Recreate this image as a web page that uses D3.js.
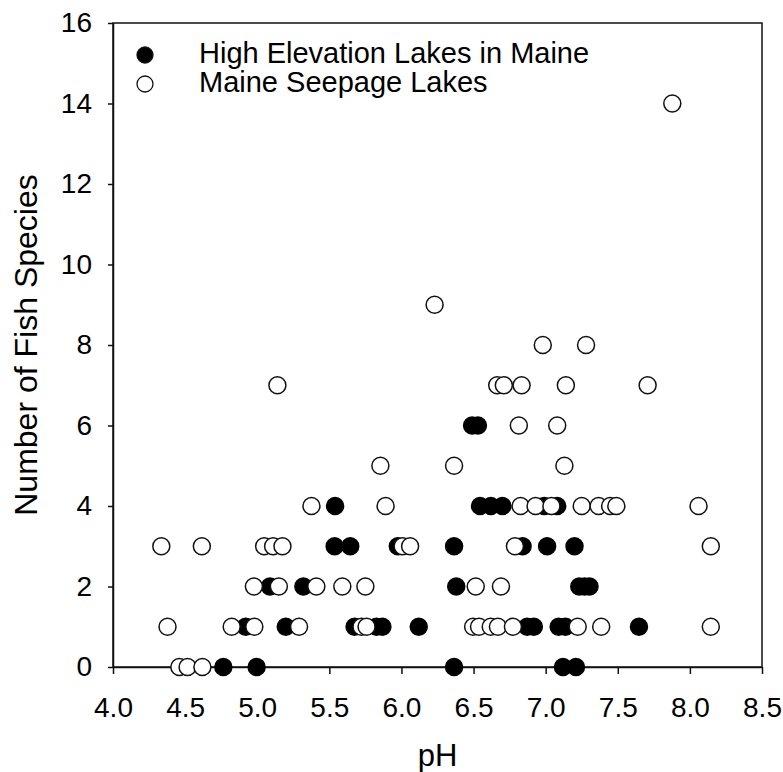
<!DOCTYPE html>
<html>
<head>
<meta charset="utf-8">
<script src="https://cdn.jsdelivr.net/npm/d3@7"></script>
<style>
  html, body { margin: 0; padding: 0; background: #fff; }
  svg { display: block; font-family: "Liberation Sans", Arial, sans-serif; }
</style>
</head>
<body>
<svg id="chart" width="783" height="772"></svg>
<script>
// ---- Data ----
const seriesNames = ["High Elevation Lakes in Maine", "Maine Seepage Lakes"];
const xTicks = [4.0, 4.5, 5.0, 5.5, 6.0, 6.5, 7.0, 7.5, 8.0, 8.5];
const yTicks = [0, 2, 4, 6, 8, 10, 12, 14, 16];

// High Elevation Lakes in Maine (filled): [pH, species]
const highElevation = [
  [4.765, 0], [4.996, 0], [6.365, 0], [7.12, 0], [7.21, 0],
  [4.92, 1], [5.198, 1], [5.675, 1], [5.827, 1], [5.868, 1], [6.12, 1],
  [6.872, 1], [6.918, 1], [7.09, 1], [7.137, 1], [7.647, 1],
  [5.088, 2], [5.32, 2], [6.38, 2], [7.233, 2], [7.27, 2], [7.304, 2],
  [5.537, 3], [5.645, 3], [5.975, 3], [6.365, 3], [6.84, 3], [7.01, 3], [7.20, 3],
  [5.54, 4], [6.545, 4], [6.62, 4], [6.70, 4], [6.99, 4], [7.08, 4],
  [6.49, 6], [6.53, 6]
];

// Maine Seepage Lakes (open): [pH, species]
const seepage = [
  [4.46, 0], [4.517, 0], [4.62, 0],
  [4.378, 1], [4.823, 1], [4.98, 1], [5.29, 1], [5.723, 1], [5.758, 1],
  [6.497, 1], [6.538, 1], [6.619, 1], [6.669, 1], [6.773, 1], [7.222, 1], [7.385, 1], [8.145, 1],
  [4.977, 2], [5.15, 2], [5.41, 2], [5.59, 2], [5.75, 2], [6.515, 2], [6.69, 2],
  [4.335, 3], [4.616, 3], [5.048, 3], [5.11, 3], [5.175, 3], [6.008, 3], [6.06, 3], [6.787, 3], [8.145, 3],
  [5.376, 4], [5.89, 4], [6.826, 4], [6.93, 4], [7.04, 4], [7.25, 4], [7.367, 4], [7.447, 4], [7.49, 4], [8.06, 4],
  [5.854, 5], [6.365, 5], [7.13, 5],
  [6.814, 6], [7.08, 6],
  [5.14, 7], [6.664, 7], [6.71, 7], [6.833, 7], [7.14, 7], [7.707, 7],
  [6.98, 8], [7.28, 8],
  [6.23, 9],
  [7.878, 14]
];

// ---- Layout ----
const svg = d3.select("#chart");
const plotLeft = 113, plotRight = 762, plotTop = 23, plotBottom = 667;

const x = d3.scaleLinear().domain([4.0, 8.5]).range([plotLeft, plotRight]);
const y = d3.scaleLinear().domain([0, 16]).range([plotBottom, plotTop]);

const axisColor = "#111";

// Frame
svg.append("rect")
  .attr("x", plotLeft).attr("y", plotTop)
  .attr("width", plotRight - plotLeft).attr("height", plotBottom - plotTop)
  .attr("fill", "none").attr("stroke", axisColor).attr("stroke-width", 1.5);

// X axis
const gx = svg.append("g")
  .attr("transform", `translate(0,${plotBottom})`)
  .call(d3.axisBottom(x).tickValues(xTicks).tickFormat(d3.format(".1f"))
        .tickSize(7).tickSizeOuter(0).tickPadding(23));
gx.select(".domain").attr("stroke", axisColor).attr("stroke-width", 1.5);
gx.selectAll(".tick line").attr("stroke", axisColor).attr("stroke-width", 1.5);
gx.selectAll(".tick text").attr("font-size", 28).attr("fill", "#000")
  .attr("font-family", "Liberation Sans, Arial, sans-serif");

// Y axis
const gy = svg.append("g")
  .attr("transform", `translate(${plotLeft},0)`)
  .call(d3.axisLeft(y).tickValues(yTicks).tickFormat(d3.format("d"))
        .tickSize(5).tickSizeOuter(0).tickPadding(16));
gy.select(".domain").attr("stroke", axisColor).attr("stroke-width", 1.5);
gy.selectAll(".tick line").attr("stroke", axisColor).attr("stroke-width", 1.5);
gy.selectAll(".tick text").attr("font-size", 28).attr("fill", "#000")
  .attr("font-family", "Liberation Sans, Arial, sans-serif");

// Axis titles
svg.append("text")
  .attr("x", (plotLeft + plotRight) / 2).attr("y", 766)
  .attr("text-anchor", "middle").attr("font-size", 31).attr("fill", "#000")
  .text("pH");

svg.append("text")
  .attr("transform", `translate(37,${(plotTop + plotBottom) / 2}) rotate(-90)`)
  .attr("text-anchor", "middle").attr("font-size", 32).attr("fill", "#000")
  .text("Number of Fish Species");

// Points
const r = 8.5;
svg.append("g").selectAll("circle")
  .data(highElevation).join("circle")
  .attr("cx", d => x(d[0])).attr("cy", d => y(d[1])).attr("r", r)
  .attr("fill", "#000").attr("stroke", "#000").attr("stroke-width", 1.5);

svg.append("g").selectAll("circle")
  .data(seepage).join("circle")
  .attr("cx", d => x(d[0])).attr("cy", d => y(d[1])).attr("r", r)
  .attr("fill", "#fff").attr("stroke", "#111").attr("stroke-width", 1.5);

// Legend
const legend = svg.append("g");
const legendFills = ["#000", "#fff"];
const rowY = i => 55 + i * 29;
seriesNames.forEach((name, i) => {
  legend.append("circle")
    .attr("cx", 145).attr("cy", rowY(i)).attr("r", 8)
    .attr("fill", legendFills[i]).attr("stroke", "#111").attr("stroke-width", 1.3);
  legend.append("text")
    .attr("x", 199).attr("y", rowY(i) + 8)
    .attr("font-size", 29).attr("fill", "#000")
    .text(name);
});
</script>
</body>
</html>
